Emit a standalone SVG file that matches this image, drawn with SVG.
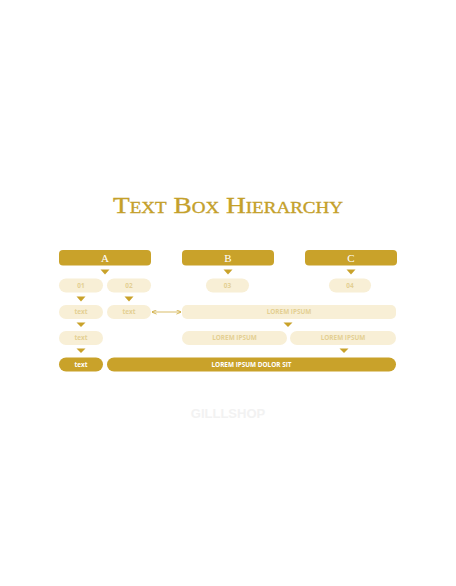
<svg xmlns="http://www.w3.org/2000/svg" width="456" height="586" viewBox="0 0 456 586">
<defs>
<style>
.dark{fill:#c9a22a}
.light{fill:#f8efd6}
.hdr{font-family:"Liberation Serif",serif;font-size:11px;fill:#ffffff;text-anchor:middle}
.lt{font-family:"Open Sans","Liberation Sans",sans-serif;font-size:6.4px;font-weight:bold;fill:#e4cf93;text-anchor:middle}
.dt{font-family:"Open Sans","Liberation Sans",sans-serif;font-size:6.4px;font-weight:bold;fill:#ffffff;text-anchor:middle}
.tri{fill:#c9a22a}
.conn{stroke:#c9a22a;stroke-width:0.7;fill:none}
</style>
<marker id="ah" viewBox="0 0 6 6" refX="5.5" refY="3" markerWidth="5" markerHeight="5" orient="auto-start-reverse" markerUnits="userSpaceOnUse">
<path d="M0,0.5 L6,3 L0,5.5" fill="none" stroke="#c9a22a" stroke-width="0.9"/>
</marker>
</defs>
<rect width="456" height="586" fill="#ffffff"/>
<text x="228" y="213" text-anchor="middle" font-family="'Liberation Serif',serif" font-size="23" font-variant="small-caps" fill="#c4a02a" stroke="#c4a02a" stroke-width="0.35" textLength="230" lengthAdjust="spacingAndGlyphs">Text Box Hierarchy</text>

<g id="A"><rect class="dark" x="59" y="250" width="92" height="15.5" rx="4"/><text class="hdr" x="105" y="261.5">A</text></g>
<g id="B"><rect class="dark" x="182" y="250" width="92" height="15.5" rx="4"/><text class="hdr" x="228" y="261.5">B</text></g>
<g id="C"><rect class="dark" x="305" y="250" width="92" height="15.5" rx="4"/><text class="hdr" x="351" y="261.5">C</text></g>

<g id="n01"><rect class="light" x="59" y="278.5" width="44" height="14" rx="7"/><text class="lt" x="81" y="287.8">01</text></g>
<g id="n02"><rect class="light" x="107" y="278.5" width="44" height="14" rx="7"/><text class="lt" x="129" y="287.8">02</text></g>
<g id="n03"><rect class="light" x="206" y="278.5" width="43" height="14" rx="7"/><text class="lt" x="227.5" y="287.8">03</text></g>
<g id="n04"><rect class="light" x="329" y="278.5" width="42" height="14" rx="7"/><text class="lt" x="350" y="287.8">04</text></g>

<g id="text1"><rect class="light" x="59" y="305" width="44" height="14" rx="7"/><text class="lt" x="81" y="314.3">text</text></g>
<g id="text2"><rect class="light" x="107" y="305" width="44" height="14" rx="7"/><text class="lt" x="129" y="314.3">text</text></g>
<g id="lorem1"><rect class="light" x="182" y="305" width="214" height="14" rx="5"/><text class="lt" x="289" y="314.3">LOREM IPSUM</text></g>

<g id="text3"><rect class="light" x="59" y="331" width="44" height="14" rx="7"/><text class="lt" x="81" y="340.3">text</text></g>
<g id="lorem2"><rect class="light" x="182" y="331" width="105" height="14" rx="7"/><text class="lt" x="234.5" y="340.3">LOREM IPSUM</text></g>
<g id="lorem3"><rect class="light" x="290" y="331" width="106" height="14" rx="7"/><text class="lt" x="343" y="340.3">LOREM IPSUM</text></g>

<g id="text4"><rect class="dark" x="59" y="357.5" width="44" height="14" rx="7"/><text class="dt" x="81" y="366.8">text</text></g>
<g id="lorem4"><rect class="dark" x="107" y="357.5" width="289" height="14" rx="7"/><text class="dt" x="251.5" y="366.8">LOREM IPSUM DOLOR SIT</text></g>

<g id="connectors">
<path class="tri" d="M100.5,269.5 L109.5,269.5 L105,274.5 Z"/>
<path class="tri" d="M223.5,269.5 L232.5,269.5 L228,274.5 Z"/>
<path class="tri" d="M346.5,269.5 L355.5,269.5 L351,274.5 Z"/>
<path class="tri" d="M76.5,296.5 L85.5,296.5 L81,301.5 Z"/>
<path class="tri" d="M124.5,296.5 L133.5,296.5 L129,301.5 Z"/>
<path class="tri" d="M76.5,322.5 L85.5,322.5 L81,327 Z"/>
<path class="tri" d="M283.5,322.5 L292.5,322.5 L288,327 Z"/>
<path class="tri" d="M76.5,348.5 L85.5,348.5 L81,353 Z"/>
<path class="tri" d="M339.5,348.5 L348.5,348.5 L344,353 Z"/>
<line class="conn" x1="152" y1="312" x2="181" y2="312" marker-start="url(#ah)" marker-end="url(#ah)"/>
</g>
<text x="228" y="418" text-anchor="middle" font-family="'Liberation Sans',sans-serif" font-size="13" font-weight="bold" fill="#f2f2f2">GILLLSHOP</text>
</svg>
